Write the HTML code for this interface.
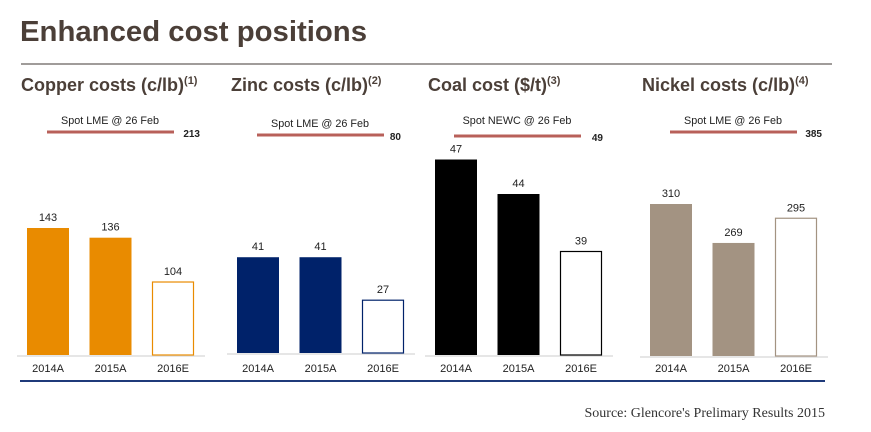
<!DOCTYPE html>
<html><head><meta charset="utf-8"><style>
body{margin:0;background:#fff;width:871px;height:432px;overflow:hidden}
svg{display:block}
text{font-family:"Liberation Sans",Arial,sans-serif}
</style></head><body>
<svg id="c" width="871" height="432">
<text x="20" y="41" font-size="29" font-weight="bold" fill="#4b3f38" textLength="347" lengthAdjust="spacingAndGlyphs">Enhanced cost positions</text>
<line x1="21" y1="64" x2="832" y2="64" stroke="#a09c9a" stroke-width="2"/>
<line x1="20" y1="381" x2="825" y2="381" stroke="#1f3a7a" stroke-width="2"/>
<text x="825" y="417" text-anchor="end" font-size="14" fill="#333" style="font-family:'Liberation Serif',serif">Source: Glencore's Prelimary Results 2015</text>
</svg>
<script>
const categories=["2014A","2015A","2016E"];
const copperValues=[143,136,104];
const zincValues=[41,41,27];
const coalValues=[47,44,39];
const nickelValues=[310,269,295];
const spotLabels=["Spot LME @ 26 Feb","Spot LME @ 26 Feb","Spot NEWC @ 26 Feb","Spot LME @ 26 Feb"];
const spotValues=[213,80,49,385];
const titles=["Copper costs (c/lb)","Zinc costs (c/lb)","Coal cost ($/t)","Nickel costs (c/lb)"];
const notes=["(1)","(2)","(3)","(4)"];

const svg=document.getElementById('c');
const NS='http://www.w3.org/2000/svg';
function mk(tag,attrs,parent){const e=document.createElementNS(NS,tag);for(const k in attrs)e.setAttribute(k,attrs[k]);(parent||svg).appendChild(e);return e;}
const panels=[
 {vals:copperValues,x0:27,base:355,min:51.3,scale:1.385,color:'#e98b00',tx:21,lineX:47,lineY:132,lblY:124,sv:200},
 {vals:zincValues,x0:237,base:353,min:9.8,scale:3.07,color:'#00226a',tx:231,lineX:257,lineY:135,lblY:127,sv:401},
 {vals:coalValues,x0:435,base:355,min:30,scale:11.5,color:'#000000',tx:428,lineX:454,lineY:136,lblY:124,sv:603},
 {vals:nickelValues,x0:650,base:356,min:150,scale:0.95,color:'#a39382',tx:642,lineX:670,lineY:132,lblY:124,sv:822}
];
panels.forEach((p,pi)=>{
 const g=mk('g',{});
 
 
 const t=mk('text',{x:p.tx,y:91,'font-size':18,'font-weight':'bold',fill:'#4b3f38'},g);
 t.textContent=titles[pi];
 const ts=mk('tspan',{'font-size':11,dy:-7},t);ts.textContent=notes[pi];
 
 
 const ax=mk('line',{x1:p.x0-10,y1:p.base+1,x2:p.x0+178,y2:p.base+1,stroke:'#ddd','stroke-width':1.5},g);
 
 
 const sl=mk('line',{x1:p.lineX,y1:p.lineY,x2:p.lineX+127,y2:p.lineY,stroke:'#b8605a','stroke-width':3},g);
 
 
 const lt=mk('text',{x:p.lineX+63,y:p.lblY,'font-size':10.8,'text-anchor':'middle',fill:'#222'},g);
 lt.textContent=spotLabels[pi];
 
 
 const vt=mk('text',{x:p.sv,y:p.lineY+5,'font-size':10,'font-weight':'bold','text-anchor':'end',fill:'#222'},g);
 vt.textContent=spotValues[pi];
 
 
 p.vals.forEach((v,i)=>{
  const h=(v-p.min)*p.scale, x=p.x0+i*62.5, y=p.base-h;
  const outline=i===2;
  const r=mk('rect',{x:outline?x+0.5:x,y:y,width:outline?41:42,height:h,fill:outline?'#fff':p.color,stroke:outline?p.color:'none','stroke-width':1.2},g);
  
  
  const l=mk('text',{x:x+21,y:y-7,'font-size':11,'text-anchor':'middle',fill:'#222'},g);
  l.textContent=v;
  
  
  const c=mk('text',{x:x+21,y:372,'font-size':11,'text-anchor':'middle',fill:'#222'},g);
  c.textContent=categories[i];
  
  
 });
});
</script>
</body></html>
